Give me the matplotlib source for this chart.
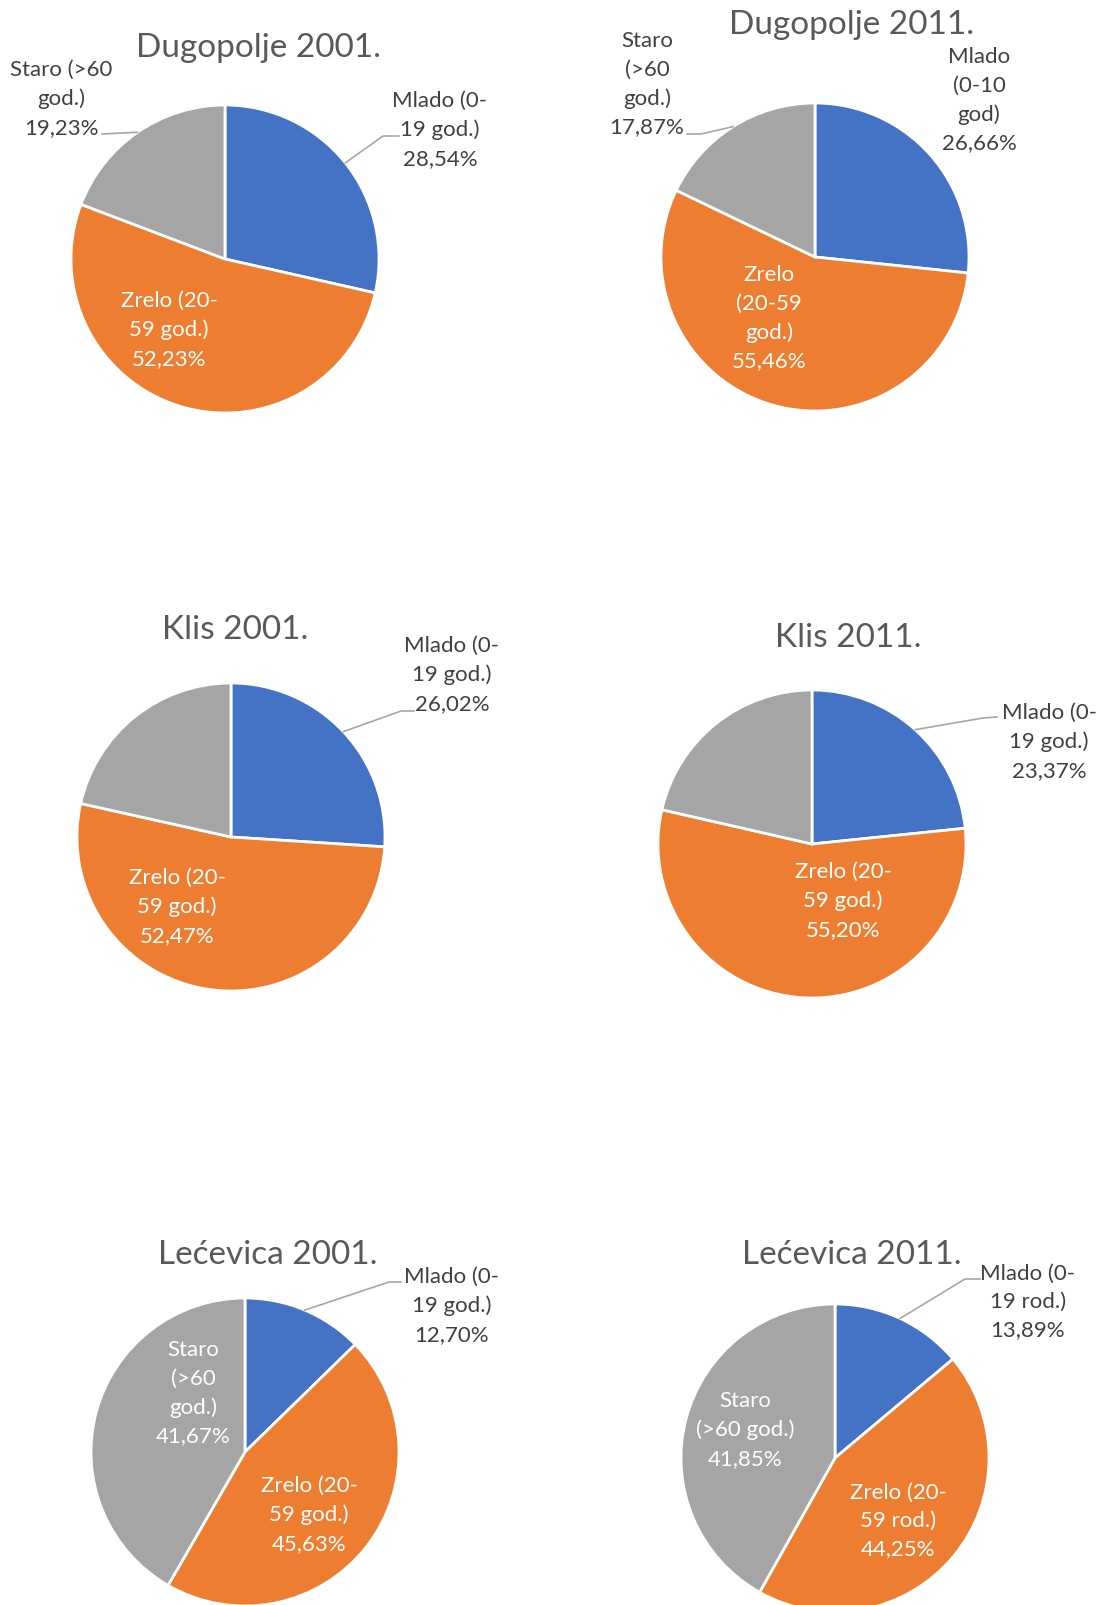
import matplotlib
matplotlib.use("Agg")
import matplotlib.pyplot as plt
import numpy as np

plt.rcParams['font.family'] = ['Lato', 'DejaVu Sans']

# data
titles = ["Dugopolje 2001.", "Dugopolje 2011.", "Klis 2001.", "Klis 2011.",
          "Lećevica 2001.", "Lećevica 2011."]
mlado = [28.54, 26.66, 26.02, 23.37, 12.70, 13.89]
zrelo = [52.23, 55.46, 52.47, 55.20, 45.63, 44.25]
staro = [19.23, 17.87, 21.51, 21.43, 41.67, 41.85]

mlado_names = ["Mlado (0-\n19 god.)", "Mlado\n(0-10\ngod)", "Mlado (0-\n19 god.)",
               "Mlado (0-\n19 god.)", "Mlado (0-\n19 god.)", "Mlado (0-\n19 rod.)"]
zrelo_names = ["Zrelo (20-\n59 god.)", "Zrelo\n(20-59\ngod.)", "Zrelo (20-\n59 god.)",
               "Zrelo (20-\n59 god.)", "Zrelo (20-\n59 god.)", "Zrelo (20-\n59 rod.)"]
staro_names = ["Staro (>60\ngod.)", "Staro\n(>60\ngod.)", None, None,
               "Staro\n(>60\ngod.)", "Staro\n(>60 god.)"]

colors = ['#4472C4', '#ED7D31', '#A5A5A5']

# layout in pixels (figure 1103x1606)
W, H = 1103, 1606
RX, RY = 154, 154
centers = [(225, 260), (815, 258), (231, 838), (812, 845), (245, 1453), (835, 1459)]
title_xy = [(259, 48), (852, 25), (235, 630), (848, 638), (268, 1255), (852, 1255)]
mlado_xy = [(440, 130), (979, 100), (452, 675), (1049, 742), (452, 1306), (1028, 1302)]
zrelo_xy = [(169, 330), (769, 318), (177, 907), (843, 901), (309, 1515), (898, 1521)]
staro_xy = [(61, 99), (647, 84), None, None, (193, 1393), (745, 1430)]
mlado_lead = [((383, 137), (399, 137)), None, ((401, 712), (414, 712)),
              ((983, 719), (997, 718)), ((389, 1283), (401, 1283)), ((965, 1280), (980, 1280))]
staro_lead = [((102, 135), (102, 135)), ((701, 135), (687, 135)), None, None, None, None]


def pct(v):
    return f"{v:.2f}".replace('.', ',') + '%'


fig = plt.figure(figsize=(W / 100, H / 100), dpi=100)
fig.patch.set_facecolor('white')

for i in range(6):
    cx, cy = centers[i]
    ax = fig.add_axes([(cx - RX) / W, 1 - (cy + RY) / H, 2 * RX / W, 2 * RY / H])
    vals = [mlado[i], zrelo[i], staro[i]]
    wedges, _ = ax.pie(vals, colors=colors, startangle=90, counterclock=False,
                       radius=1, wedgeprops=dict(edgecolor='white', linewidth=2))
    ax.set_aspect('auto')
    ax.set_xlim(-1, 1)
    ax.set_ylim(-1, 1)
    ax.axis('off')

    def to_data(p):
        return ((p[0] - cx) / RX, (cy - p[1]) / RY)

    tx, ty = to_data(title_xy[i])
    ax.text(tx, ty, titles[i], ha='center', va='center', fontsize=24,
            color='#595959', clip_on=False)

    labels = [(mlado_names[i], mlado[i], mlado_xy[i], mlado_lead[i], wedges[0]),
              (zrelo_names[i], zrelo[i], zrelo_xy[i], None, wedges[1]),
              (staro_names[i], staro[i], staro_xy[i], staro_lead[i], wedges[2])]
    for name, v, xy, lead, w in labels:
        if name is None:
            continue
        lx, ly = to_data(xy)
        inside = lx ** 2 + ly ** 2 < 1
        ax.text(lx, ly, name + "\n" + pct(v), ha='center', va='center',
                fontsize=16, linespacing=1.52, color='white' if inside else '#404040',
                clip_on=False)
        if lead is not None:
            ang = np.deg2rad((w.theta1 + w.theta2) / 2)
            ex, ey = to_data(lead[0])
            fx, fy = to_data(lead[1])
            ax.plot([np.cos(ang), ex, fx], [np.sin(ang), ey, fy], color='#A6A6A6',
                    lw=1.2, clip_on=False)

fig.savefig('out.png', dpi=100, facecolor='white')
